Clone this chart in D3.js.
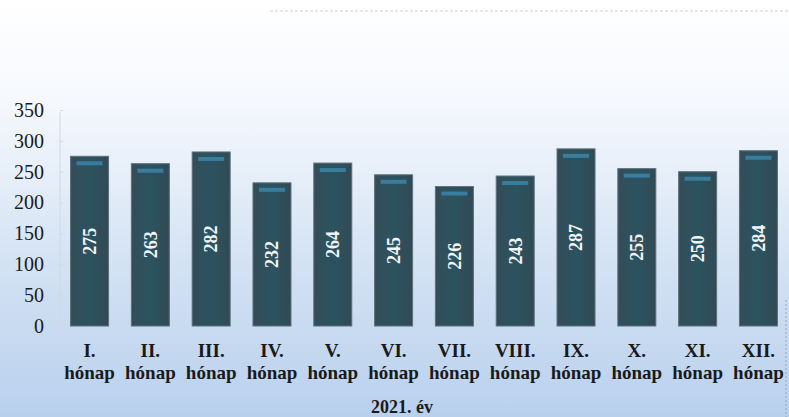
<!DOCTYPE html>
<html>
<head>
<meta charset="utf-8">
<script src="https://cdn.jsdelivr.net/npm/d3@7"></script>
<style>
  body { margin: 0; background: #fff; }
  svg { display: block; }
  svg text { font-family: "Liberation Serif", "DejaVu Serif", serif; }
</style>
</head>
<body>
<svg id="svg" width="789" height="417"></svg>
<script>
const width = 789;
const height = 417;

const months = ["I.", "II.", "III.", "IV.", "V.", "VI.", "VII.", "VIII.", "IX.", "X.", "XI.", "XII."];
const values = [275, 263, 282, 232, 264, 245, 226, 243, 287, 255, 250, 284];
const yTicks = [0, 50, 100, 150, 200, 250, 300, 350];
const monthWord = "hónap";
const yearLabel = "2021. év";

let svg = d3.select("#svg");

// background gradient, white on top to pale blue at the bottom
let defs = svg.append("defs");
let bg = defs.append("linearGradient")
  .attr("id", "bg")
  .attr("x1", 0).attr("y1", 0).attr("x2", 0).attr("y2", 1);
bg.append("stop").attr("offset", "0%").attr("stop-color", "#ffffff");
bg.append("stop").attr("offset", "25%").attr("stop-color", "#f5f8fd");
bg.append("stop").attr("offset", "60%").attr("stop-color", "#d6e4f4");
bg.append("stop").attr("offset", "100%").attr("stop-color", "#b9d0ed");

let barGrad = defs.append("linearGradient")
  .attr("id", "bar")
  .attr("x1", 0).attr("y1", 0).attr("x2", 1).attr("y2", 0);
barGrad.append("stop").attr("offset", "0%").attr("stop-color", "#334d58");
barGrad.append("stop").attr("offset", "50%").attr("stop-color", "#2c5360");
barGrad.append("stop").attr("offset", "100%").attr("stop-color", "#314a55");

svg.append("rect")
  .attr("width", width)
  .attr("height", height)
  .attr("fill", "url(#bg)");

// faint scan line at the top
svg.append("line")
  .attr("x1", 270).attr("x2", width)
  .attr("y1", 11).attr("y2", 11)
  .attr("stroke", "#c9a3c6")
  .attr("stroke-width", 1)
  .attr("stroke-dasharray", "3,2")
  .attr("opacity", 0.6);

const x = d3.scaleBand()
  .domain(months)
  .range([59, 789])
  .paddingInner(0.375)
  .paddingOuter(0.19);

const y = d3.scaleLinear()
  .domain([0, 350])
  .range([326, 110]);

// y axis
let yAxis = svg.append("g")
  .attr("transform", "translate(60,0)")
  .call(d3.axisLeft(y).tickValues(yTicks).tickSize(-3).tickPadding(16));
yAxis.attr("font-family", null);
yAxis.select(".domain")
  .attr("stroke", "#d0d8e1")
  .attr("d", `M0,${y(350) + 2}V${y(0) + 4}`);
yAxis.selectAll(".tick line").attr("stroke", "#d0d8e1");
yAxis.selectAll("text")
  .style("font-family", "'Liberation Serif', serif")
  .attr("font-size", 20)
  .attr("fill", "#1a1a1a");

// bars
let bars = svg.append("g").selectAll("g")
  .data(values)
  .join("g");

bars.append("rect")
  .attr("x", (d, i) => x(months[i]))
  .attr("y", (d) => y(d))
  .attr("width", x.bandwidth())
  .attr("height", (d) => y(0) - y(d))
  .attr("fill", "url(#bar)")
  .attr("stroke", "#5d717b")
  .attr("stroke-width", 1);

// highlight stripe near the top of each bar
bars.append("rect")
  .attr("x", (d, i) => x(months[i]) + 6)
  .attr("y", (d) => y(d) + 5)
  .attr("width", x.bandwidth() - 12)
  .attr("height", 4)
  .attr("fill", "#3d8cb4")
  .attr("opacity", 0.75);

bars.append("text")
  .attr("transform", (d, i) => {
    let cx = x(months[i]) + x.bandwidth() / 2;
    let cy = (y(d) + y(0)) / 2;
    return `translate(${cx},${cy}) rotate(-90)`;
  })
  .attr("text-anchor", "middle")
  .attr("dy", "0.35em")
  .attr("font-size", 18)
  .attr("font-weight", "bold")
  .attr("fill", "#f2f5f6")
  .text((d) => d);

// x labels: month number and "hónap"
let xLabels = svg.append("g").selectAll("text")
  .data(months)
  .join("text")
  .attr("x", (d) => x(d) + x.bandwidth() / 2)
  .attr("text-anchor", "middle")
  .attr("font-size", 19)
  .attr("font-weight", "bold")
  .attr("fill", "#1a1a1a");
xLabels.append("tspan")
  .attr("x", (d) => x(d) + x.bandwidth() / 2)
  .attr("y", 357)
  .text((d) => d);
xLabels.append("tspan")
  .attr("x", (d) => x(d) + x.bandwidth() / 2)
  .attr("y", 379)
  .text(monthWord);

svg.append("text")
  .attr("x", 402)
  .attr("y", 413)
  .attr("text-anchor", "middle")
  .attr("font-size", 18)
  .attr("font-weight", "bold")
  .attr("fill", "#1a1a1a")
  .text(yearLabel);

// right-hand dashed border from the scan
svg.append("line")
  .attr("x1", 786).attr("x2", 786)
  .attr("y1", 300).attr("y2", height)
  .attr("stroke", "#9aa6b4")
  .attr("stroke-dasharray", "2,2");
</script>
</body>
</html>
